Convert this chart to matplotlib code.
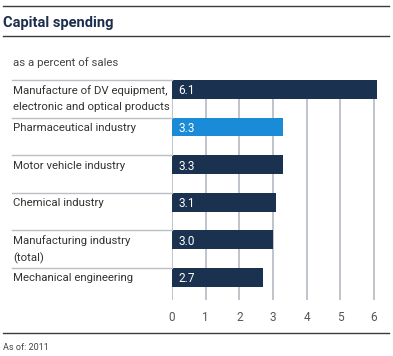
import matplotlib
matplotlib.use("Agg")
import matplotlib.pyplot as plt
from matplotlib.lines import Line2D

categories = ["Manufacture of DV equipment,\nelectronic and optical products",
              "Pharmaceutical industry",
              "Motor vehicle industry",
              "Chemical industry",
              "Manufacturing industry\n(total)",
              "Mechanical engineering"]
values = [6.1, 3.3, 3.3, 3.1, 3.0, 2.7]
value_labels = ["6.1", "3.3", "3.3", "3.1", "3.0", "2.7"]
highlight = [False, True, False, False, False, False]
xticks = [0, 1, 2, 3, 4, 5, 6]

DARK = "#1b3150"
LIGHT = "#1a8bd6"
GRID = "#b9bfc5"
TEXT = "#333333"
FONT = "Roboto"
plt.rcParams['font.family'] = [FONT, 'DejaVu Sans']

W, H = 393, 356
fig = plt.figure(figsize=(W / 100, H / 100), dpi=100)

def fy(py):
    return 1 - py / H

def fx(px):
    return px / W

# axes region
ax_left, ax_right, ax_top, ax_bot = 172, 172 + 6.2 * 33.67, 80, 300
ax = fig.add_axes([fx(ax_left), fy(ax_bot), fx(ax_right - ax_left), (ax_bot - ax_top) / H])
band = 37.6
ax.set_xlim(0, 6.2)
ax.set_ylim((ax_bot - ax_top) / band, 0)
for s in ax.spines.values():
    s.set_visible(False)

ylim = ax.get_ylim()
ax.vlines(xticks, 0, ylim[0], color=GRID, lw=1.3, zorder=1)

bar_h = 18.7 / band
ypos = list(range(len(categories)))
colors = [LIGHT if h else DARK for h in highlight]
ax.barh([y + bar_h / 2 for y in ypos], values, height=bar_h, color=colors, zorder=2)

for y, lab in zip(ypos, value_labels):
    ax.text(0.18, y + bar_h / 2, lab, color="white", fontsize=8.5, va="center_baseline", ha="left", zorder=3)

trans = ax.get_yaxis_transform()
x_sep0 = (12 - ax_left) / (ax_right - ax_left)
for y, cat in zip(ypos, categories):
    ax.plot([x_sep0, 0], [y, y], transform=trans, color=GRID, lw=1.0, clip_on=False)
    for k, line in enumerate(cat.split("\n")):
        ax.text(x_sep0 + 0.005, y + bar_h / 2 + k * 17 / band, line, transform=trans,
                color=TEXT, fontsize=8.2, va="center_baseline", ha="left", clip_on=False)

ax.set_yticks([])
ax.set_xticks(xticks)
ax.set_xticklabels([str(t) for t in xticks], fontsize=8.5, color="#555555")
ax.tick_params(axis="x", length=0, pad=8)

# frame lines and text
fig.add_artist(Line2D([fx(3), fx(389)], [fy(6), fy(6)], color="#3a3a3a", lw=1.0))
fig.add_artist(Line2D([fx(3), fx(389)], [fy(36), fy(36)], color="#3a3a3a", lw=1.0))
fig.add_artist(Line2D([fx(3), fx(389)], [fy(333), fy(333)], color="#3a3a3a", lw=1.0))
fig.text(fx(3), fy(21), "Capital spending", fontsize=10.5, fontweight="bold", color="#1b2f4c",
         va="center_baseline", ha="left")
fig.text(fx(13), fy(62), "as a percent of sales", fontsize=8.2, color="#444444",
         va="center_baseline", ha="left")
fig.text(fx(3), fy(347), "As of: 2011", fontsize=6.5, color="#444444",
         va="center_baseline", ha="left")

fig.savefig("out.png", dpi=100)
